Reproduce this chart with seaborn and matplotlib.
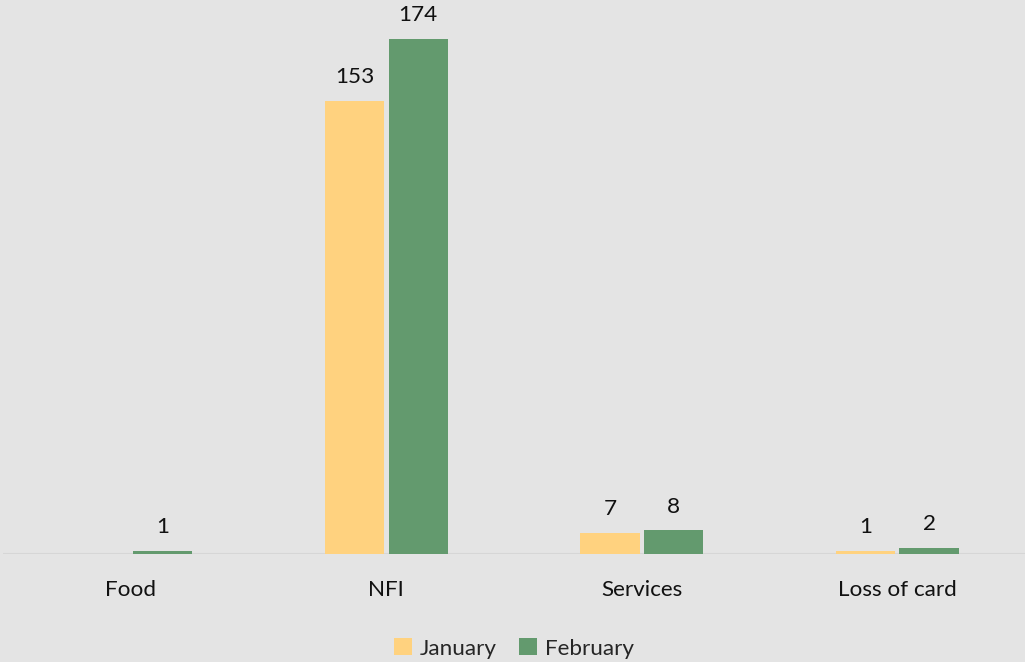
import matplotlib
matplotlib.use("Agg")
import matplotlib.pyplot as plt
import numpy as np
import pandas as pd
import seaborn as sns

categories = ["Food", "NFI", "Services", "Loss of card"]
months = ["January", "February"]
january = [np.nan, 153, 7, 1]
february = [1, 174, 8, 2]

df = pd.DataFrame({
    "category": categories * 2,
    "month": ["January"] * 4 + ["February"] * 4,
    "value": january + february,
})

BG = "#E4E4E4"
FS = 16.2
sns.set_theme(style="white")
plt.rcParams["font.family"] = ["Lato", "DejaVu Sans"]

fig = plt.figure(figsize=(10.25, 6.62), dpi=100, facecolor=BG)
ax = fig.add_axes([0.003, 0.163, 0.997, 0.837], facecolor=BG)

sns.barplot(data=df, x="category", y="value", hue="month", order=categories,
            hue_order=months, palette=["#FFD27F", "#639A6E"], width=0.5, gap=0.07,
            ax=ax, linewidth=0, saturation=1)

for cont in ax.containers:
    labels = ["" if np.isnan(v) else f"{v:.0f}" for v in cont.datavalues]
    ax.bar_label(cont, labels=labels, padding=10, fontsize=FS, color="#111111")

ax.axhline(0, color="#D6D6D6", lw=1.5, zorder=0)
ax.set_ylim(0, 187.2)
ax.set_xlim(-0.5, 3.5)
ax.set_yticks([])
ax.set_xlabel("")
ax.set_ylabel("")
ax.tick_params(axis="x", length=0, labelsize=FS, pad=19, colors="#111111")
for s in ax.spines.values():
    s.set_visible(False)

h, l = ax.get_legend_handles_labels()
ax.legend(h, l, loc="lower center", bbox_to_anchor=(0.5, -0.225), ncol=2, frameon=False,
          fontsize=FS, handlelength=0.8, handleheight=0.8, handletextpad=0.35,
          columnspacing=1.0)

fig.savefig("out.png", dpi=100, facecolor=BG)
